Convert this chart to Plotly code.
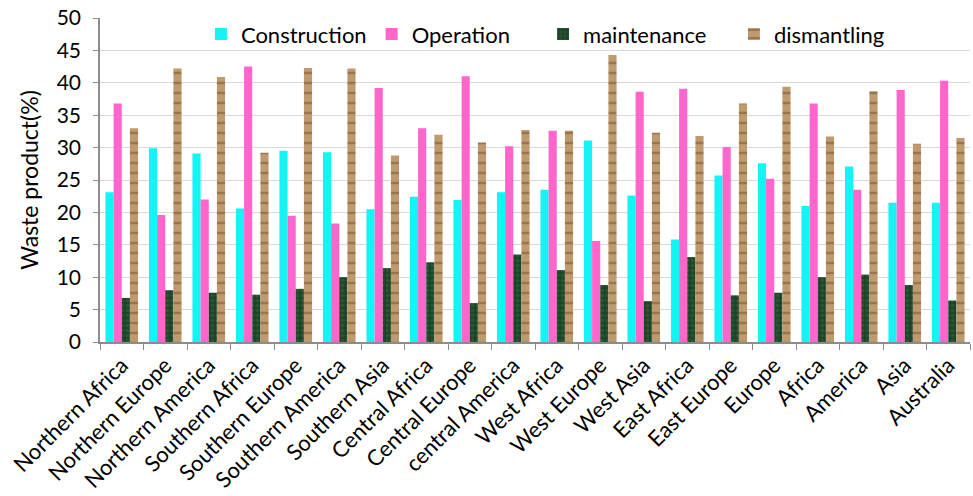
import plotly.graph_objects as go

regions = ["Northern Africa", "Northern Europe", "Northern America", "Southern Africa",
           "Southern Europe", "Southern America", "Southern Asia", "Central Africa",
           "Central Europe", "central America", "West Africa", "West Europe", "West Asia",
           "East Africa", "East Europe", "Europe", "Africa", "America", "Asia", "Australia"]

construction = [23.1, 29.9, 29.1, 20.6, 29.5, 29.3, 20.5, 22.4, 21.9, 23.1,
                23.5, 31.1, 22.6, 15.8, 25.7, 27.6, 21.0, 27.1, 21.5, 21.5]
operation = [36.8, 19.6, 22.0, 42.5, 19.5, 18.3, 39.2, 33.0, 41.0, 30.2,
             32.6, 15.6, 38.6, 39.1, 30.1, 25.2, 36.8, 23.5, 38.9, 40.3]
maintenance = [6.8, 8.0, 7.6, 7.3, 8.2, 10.0, 11.4, 12.3, 6.0, 13.5,
               11.1, 8.8, 6.3, 13.1, 7.2, 7.6, 10.0, 10.4, 8.8, 6.4]
dismantling = [33.0, 42.2, 40.9, 29.2, 42.3, 42.2, 28.8, 32.0, 30.8, 32.7,
               32.6, 44.3, 32.3, 31.8, 36.8, 39.4, 31.7, 38.7, 30.6, 31.5]

y_ticks = [0, 5, 10, 15, 20, 25, 30, 35, 40, 45, 50]

FONT = "Lato"
NB = "\u00a0"

fig = go.Figure()
fig.add_trace(go.Bar(x=regions, y=construction, name="Construction",
                     marker=dict(color="#14F4F4", line_width=0)))
fig.add_trace(go.Bar(x=regions, y=operation, name="Operation" + NB * 5,
                     marker=dict(color="#FF66CC", line_width=0)))
fig.add_trace(go.Bar(x=regions, y=maintenance, name="maintenance" + NB * 4,
                     marker=dict(color="#234F30", line_width=0,
                                 pattern=dict(shape=".", fgcolor="#3A6844", bgcolor="#1C4427",
                                              size=5, solidity=0.4))))
fig.add_trace(go.Bar(x=regions, y=dismantling, name="dismantling",
                     marker=dict(color="#B8946A", line_width=0,
                                 pattern=dict(shape="-", fgcolor="#74522F", bgcolor="#BE9A6E",
                                              size=10, solidity=0.25))))

fig.update_layout(
    width=973, height=496,
    margin=dict(l=100, r=3, t=18, b=154),
    paper_bgcolor="white", plot_bgcolor="white",
    font=dict(family=FONT, size=22, color="black"),
    barmode="group", bargap=0.25, bargroupgap=0,
    showlegend=True,
    legend=dict(orientation="h", x=0.116, y=0.95, xanchor="left", yanchor="middle",
                bgcolor="rgba(0,0,0,0)", font=dict(size=22, family=FONT),
                traceorder="normal"),
)
fig.update_xaxes(
    type="category", tickangle=-45, tickson="boundaries", automargin=False,
    ticks="outside", ticklen=6, tickcolor="#8C8C8C",
    showline=True, linecolor="#8C8C8C", linewidth=1.5,
    showgrid=False, tickfont=dict(size=22, family=FONT),
    ticklabeloverflow="allow",
)
fig.update_yaxes(
    range=[0, 50], tickmode="array", tickvals=y_ticks, automargin=False,
    ticks="outside", ticklen=5, tickcolor="#8C8C8C", ticklabelstandoff=8,
    ticklabeloverflow="allow",
    showline=True, linecolor="#8C8C8C", linewidth=1.5,
    showgrid=True, gridcolor="#D9D9D9", gridwidth=1,
    zeroline=False, tickfont=dict(size=21, family=FONT),
    title=dict(text="Waste product(%)", font=dict(size=23, family=FONT), standoff=12),
)

fig.write_html("out.html", config={"displayModeBar": False},
               post_script="document.body.style.margin='0';")
